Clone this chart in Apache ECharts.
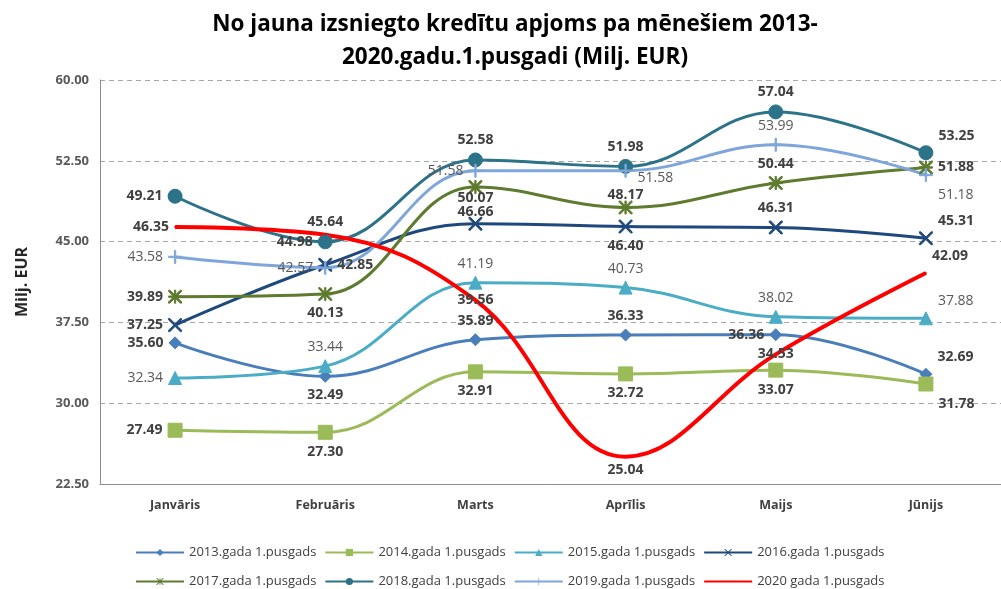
<!DOCTYPE html>
<html>
<head>
<meta charset="utf-8">
<script src="https://cdn.jsdelivr.net/npm/echarts@6/dist/echarts.min.js"></script>
<style>html,body{margin:0;padding:0;background:#fff}#c{width:1001px;height:589px}</style>
</head>
<body>
<div id="c"></div>
<script>
const categories = ['Janvāris','Februāris','Marts','Aprīlis','Maijs','Jūnijs'];
const yTicks = [22.5, 30, 37.5, 45, 52.5, 60];
const names = ['2013.gada 1.pusgads','2014.gada 1.pusgads','2015.gada 1.pusgads','2016.gada 1.pusgads',
               '2017.gada 1.pusgads','2018.gada 1.pusgads','2019.gada 1.pusgads','2020 gada 1.pusgads'];
const v2013 = [35.60, 32.49, 35.89, 36.33, 36.36, 32.69];
const v2014 = [27.49, 27.30, 32.91, 32.72, 33.07, 31.78];
const v2015 = [32.34, 33.44, 41.19, 40.73, 38.02, 37.88];
const v2016 = [37.25, 42.85, 46.66, 46.40, 46.31, 45.31];
const v2017 = [39.89, 40.13, 50.07, 48.17, 50.44, 51.88];
const v2018 = [49.21, 44.98, 52.58, 51.98, 57.04, 53.25];
const v2019 = [43.58, 42.57, 51.58, 51.58, 53.99, 51.18];
const v2020 = [46.35, 45.64, 39.56, 25.04, 34.53, 42.09];

// label placement codes per point
const lp2013 = ['L','B','T','T','L','TR'];
const lp2014 = ['L','B','B','B','B','BR'];
const lp2015 = ['L','T','T','T','T','TR'];
const lp2016 = ['L','R','Tn','B','T','TR'];
const lp2017 = ['L','B','Bn','Tn','T','R'];
const lp2018 = ['L','L','T','T','T','TR'];
const lp2019 = ['L','L','L','Rd','T','BR'];
const lp2020 = ['L','T','C','B','C','TR'];

const P = {
  L:{position:'left'}, R:{position:'right'}, T:{position:'top'}, B:{position:'bottom'},
  Tn:{position:'top', offset:[0,7]}, Bn:{position:'bottom', offset:[0,-8]},
  Rd:{position:'right', offset:[0,7]},
  TR:{position:'right', offset:[0,-17]}, BR:{position:'right', offset:[0,20]}, C:{position:'inside'}
};

const X_PATH = 'path://M0,0 L2,0 L10,8 L18,0 L20,0 L20,2 L12,10 L20,18 L20,20 L18,20 L10,12 L2,20 L0,20 L0,18 L8,10 L0,2 Z';
const STAR_PATH = 'path://M0,0 L2,0 L10,8 L18,0 L20,0 L20,2 L12,10 L20,18 L20,20 L18,20 L10,12 L2,20 L0,20 L0,18 L8,10 L0,2 Z M9,0 L11,0 L11,20 L9,20 Z M0,9 L20,9 L20,11 L0,11 Z';
const PLUS_PATH = 'path://M9,0 L11,0 L11,9 L20,9 L20,11 L11,11 L11,20 L9,20 L9,11 L0,11 L0,9 L9,9 Z';

const FONT = '"Open Sans", Lato, sans-serif';

function mk(name, vals, lps, color, symbol, size, width, bold, labelColor) {
  return {
    name, type:'line', smooth:0.4, symbol, symbolSize:size, showSymbol:true,
    lineStyle:{color, width}, itemStyle:{color, borderColor:color},
    data: vals.map((v,i)=>({value:v, label:Object.assign({}, P[lps[i]])})),
    label:{show:true, distance:5, formatter:p=>p.value.toFixed(2), fontFamily:FONT, fontSize:14,
           fontWeight: bold ? 'bold':'normal', color: labelColor}
  };
}

const series = [
  mk(names[0], v2013, lp2013, '#4A7EBB', 'diamond', 12, 3, true, '#404040'),
  mk(names[1], v2014, lp2014, '#9BBB59', 'rect', 14, 3, true, '#404040'),
  mk(names[2], v2015, lp2015, '#4BACC6', 'triangle', 13, 3, false, '#595959'),
  mk(names[3], v2016, lp2016, '#1F497D', X_PATH, 13, 3, true, '#404040'),
  mk(names[4], v2017, lp2017, '#5E7B2F', STAR_PATH, 13, 3, true, '#404040'),
  mk(names[5], v2018, lp2018, '#2C7389', 'circle', 14, 3, true, '#404040'),
  mk(names[6], v2019, lp2019, '#7EA6DB', PLUS_PATH, 13, 3, false, '#595959'),
  mk(names[7], v2020, lp2020, '#FF0000', 'circle', 1, 4, true, '#404040')
];

const legendCommon = {
  left:130, itemWidth:48, itemHeight:9, itemGap:8,
  textStyle:{fontFamily:FONT, fontSize:13, color:'#404040'}
};

const legendRow2 = names.slice(4).map((n, i) => i === 3 ? {name:n, itemStyle:{opacity:0}} : n);

const chart = echarts.init(document.getElementById('c'), null, {renderer:'canvas'});
chart.setOption({
  animation:false,
  backgroundColor:'#fff',
  title:{
    text:'No jauna izsniegto kredītu apjoms pa mēnešiem 2013-\n2020.gadu.1.pusgadi (Milj. EUR)',
    left:510, textAlign:'center', top:3,
    textStyle:{fontFamily:FONT, fontSize:22.5, fontWeight:'bold', color:'#000', lineHeight:33}
  },
  grid:{left:100, right:-10, top:80, bottom:105},
  legend:[
    Object.assign({}, legendCommon, {top:541, data:names.slice(0,4)}),
    Object.assign({}, legendCommon, {top:570, data:legendRow2})
  ],
  xAxis:{
    type:'category', data:categories, boundaryGap:true,
    axisLine:{lineStyle:{color:'#8C8C8C', width:1}},
    axisTick:{show:false},
    axisLabel:{fontFamily:FONT, fontSize:12.5, fontWeight:'bold', color:'#404040', margin:15}
  },
  yAxis:{
    type:'value', min:yTicks[0], max:yTicks[yTicks.length-1], interval:7.5,
    name:'Milj. EUR', nameLocation:'middle', nameGap:70,
    nameTextStyle:{fontFamily:FONT, fontSize:16, fontWeight:'bold', color:'#262626'},
    axisLine:{show:true, lineStyle:{color:'#8C8C8C', width:1}},
    axisTick:{show:false},
    axisLabel:{fontFamily:FONT, fontSize:13, fontWeight:'bold', color:'#595959', margin:11,
               formatter:v=>v.toFixed(2)},
    splitLine:{lineStyle:{color:'#A6A6A6', type:[5,4], width:1}}
  },
  series
});
</script>
</body>
</html>
